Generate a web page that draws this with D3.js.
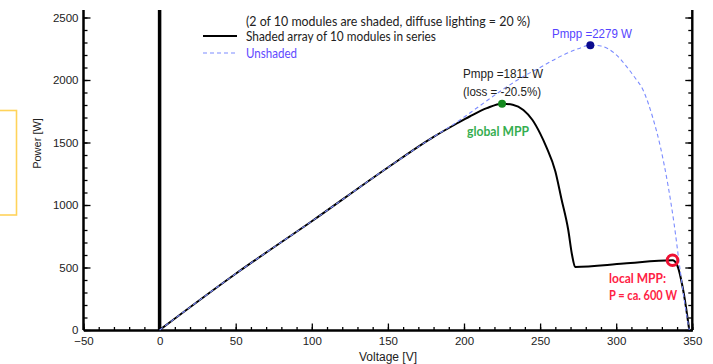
<!DOCTYPE html>
<html>
<head>
<meta charset="utf-8">
<script src="https://cdn.jsdelivr.net/npm/d3@7"></script>
<style>
  html, body { margin: 0; padding: 0; background: #fff; }
  svg { display: block; }
</style>
</head>
<body>
<svg id="chart" width="713" height="364"></svg>
<script>
// ---- data ----
const shadedV = [0, 50, 100, 150, 180, 195, 204, 215, 225, 232, 239, 245, 250, 254, 260, 264, 268.5, 271, 273, 305, 337, 340, 344, 348];
const shadedP = [0, 450, 870, 1300, 1545, 1650, 1710, 1775, 1811, 1802, 1760, 1680, 1573, 1467, 1270, 1050, 800, 600, 505, 532, 558, 520, 320, 0];
const unshadedV = [0, 50, 100, 150, 180, 195, 210, 225, 240, 250, 263, 275, 283, 290, 299, 306, 311, 318, 324, 329, 334, 338, 342, 346, 348];
const unshadedP = [0, 450, 870, 1300, 1545, 1660, 1790, 1920, 2035, 2100, 2187, 2250, 2279, 2272, 2213, 2120, 2040, 1910, 1700, 1467, 1160, 853, 480, 140, 0];
const globalMPP = [225, 1811];
const unshadedMPP = [283, 2279];
const localMPP = [337, 558];
const xTicks = [-50, 0, 50, 100, 150, 200, 250, 300, 350];
const yTicks = [0, 500, 1000, 1500, 2000, 2500];
const xMinorTicks = d3.range(-50, 351, 10);
const yMinorTicks = d3.range(0, 2501, 100);
const legendLabels = ["(2 of 10 modules are shaded, diffuse lighting = 20 %)", "Shaded array of 10 modules in series", "Unshaded"];

// ---- layout ----
const svg = d3.select("#chart");
const x = d3.scaleLinear().domain([-50, 350]).range([83.5, 692.3]);
const y = d3.scaleLinear().domain([0, 2560]).range([330, 10]);
const axisFont = "'Liberation Sans', Arial, sans-serif";
const calFont = "Lato, 'Open Sans', sans-serif";

// yellow box at far left
svg.append("rect").attr("x", -4).attr("y", 110.5).attr("width", 20.5).attr("height", 104.5)
  .attr("fill", "none").attr("stroke", "#FFD35A").attr("stroke-width", 1.6);

function styleAxis(g) {
  g.selectAll(".domain").attr("stroke", "#000").attr("stroke-width", 2);
  g.selectAll(".tick line").attr("stroke", "#000").attr("stroke-width", 1.3);
  g.selectAll("text").attr("font-family", axisFont).attr("font-size", "11.5px").attr("fill", "#222");
}

// bottom axis
const gxMinor = svg.append("g").attr("transform", `translate(0,${y(0)})`)
  .call(d3.axisBottom(x).tickValues(xMinorTicks).tickSize(-3).tickSizeOuter(0).tickFormat(""));
styleAxis(gxMinor);
const gx = svg.append("g").attr("transform", `translate(0,${y(0)})`)
  .call(d3.axisBottom(x).tickValues(xTicks).tickSize(-6.5).tickSizeOuter(0).tickPadding(7).tickFormat(d3.format("d")));
styleAxis(gx);

// left axis
const gyMinor = svg.append("g").attr("transform", `translate(${x(-50)},0)`)
  .call(d3.axisLeft(y).tickValues(yMinorTicks).tickSize(-4).tickSizeOuter(0).tickFormat(""));
styleAxis(gyMinor);
const gy = svg.append("g").attr("transform", `translate(${x(-50)},0)`)
  .call(d3.axisLeft(y).tickValues(yTicks).tickSize(-7).tickSizeOuter(0).tickPadding(5).tickFormat(d3.format("d")));
styleAxis(gy);

// right axis
const grMinor = svg.append("g").attr("transform", `translate(${x(350)},0)`)
  .call(d3.axisRight(y).tickValues(yMinorTicks).tickSize(-4).tickSizeOuter(0).tickFormat(""));
styleAxis(grMinor);
const gr = svg.append("g").attr("transform", `translate(${x(350)},0)`)
  .call(d3.axisRight(y).tickValues(yTicks).tickSize(-7).tickSizeOuter(0).tickFormat(""));
styleAxis(gr);
// extend axes lines to the top of the plot
[gy, gr, gyMinor, grMinor].forEach(g => g.select(".domain").attr("d", `M0,${y(2560)}V${y(0)}`));

// axis titles
svg.append("text").attr("x", 388).attr("y", 361).attr("text-anchor", "middle")
  .attr("font-family", axisFont).attr("font-size", "12px").attr("fill", "#222").text("Voltage [V]");
svg.append("text").attr("transform", "translate(41,143.5) rotate(-90)").attr("text-anchor", "middle")
  .attr("font-family", axisFont).attr("font-size", "11px").attr("fill", "#222").text("Power [W]");

// thick zero line
svg.append("line").attr("x1", x(0)).attr("x2", x(0)).attr("y1", y(2560)).attr("y2", y(0))
  .attr("stroke", "#000").attr("stroke-width", 3.5);

// curves
const line = d3.line().x(d => x(d[0])).y(d => y(d[1])).curve(d3.curveMonotoneX);
const shaded = shadedV.map((v, i) => [v, shadedP[i]]);
const unshaded = unshadedV.map((v, i) => [v, unshadedP[i]]);
svg.append("path").attr("d", line(shaded)).attr("fill", "none").attr("stroke", "#000").attr("stroke-width", 2);
svg.append("path").attr("d", line(unshaded)).attr("fill", "none").attr("stroke", "#7C8CFF")
  .attr("stroke-width", 1.1).attr("stroke-dasharray", "4,3");

// legend
svg.append("line").attr("x1", 203).attr("x2", 237).attr("y1", 36).attr("y2", 36).attr("stroke", "#000").attr("stroke-width", 2);
svg.append("line").attr("x1", 203).attr("x2", 237).attr("y1", 53).attr("y2", 53).attr("stroke", "#7C8CFF")
  .attr("stroke-width", 1.1).attr("stroke-dasharray", "4,3");
const legY = [26, 40.5, 57.5], legW = [284, 190, 51], legC = ["#222", "#222", "#5F4BFF"];
legendLabels.forEach((t, i) => {
  svg.append("text").attr("x", 246).attr("y", legY[i]).attr("font-family", calFont).attr("font-size", "12.5px")
    .attr("fill", legC[i]).attr("textLength", legW[i]).attr("lengthAdjust", "spacingAndGlyphs").text(t);
});

// markers
svg.append("circle").attr("cx", x(unshadedMPP[0])).attr("cy", y(unshadedMPP[1])).attr("r", 4).attr("fill", "#0B0B8F");
svg.append("circle").attr("cx", x(globalMPP[0])).attr("cy", y(globalMPP[1])).attr("r", 4).attr("fill", "#14891E");
svg.append("circle").attr("cx", x(localMPP[0])).attr("cy", y(localMPP[1])).attr("r", 5.3).attr("fill", "none")
  .attr("stroke", "#EE1133").attr("stroke-width", 3);

// annotations
function ann(tx, ty, t, opts) {
  const el = svg.append("text").attr("x", tx).attr("y", ty).attr("font-family", opts.font || axisFont)
    .attr("font-size", opts.size || "12px").attr("fill", opts.fill || "#222").text(t);
  if (opts.bold) el.attr("font-weight", "bold");
  if (opts.w) el.attr("textLength", opts.w).attr("lengthAdjust", "spacingAndGlyphs");
}
ann(552, 37.5, "Pmpp =" + unshadedMPP[1] + " W", { fill: "#5544FF", w: 80 });
ann(463, 78, "Pmpp =" + globalMPP[1] + " W", { w: 80 });
ann(463, 96, "(loss = -20.5%)", { w: 78 });
ann(467, 136, "global MPP", { font: calFont, bold: true, fill: "#35AE50", size: "12.5px", w: 62 });
ann(609, 283, "local MPP:", { font: calFont, bold: true, fill: "#FF2244", size: "12.5px", w: 57 });
ann(609, 300, "P = ca. 600 W", { font: calFont, bold: true, fill: "#FF2244", size: "12.5px", w: 68 });
</script>
</body>
</html>
